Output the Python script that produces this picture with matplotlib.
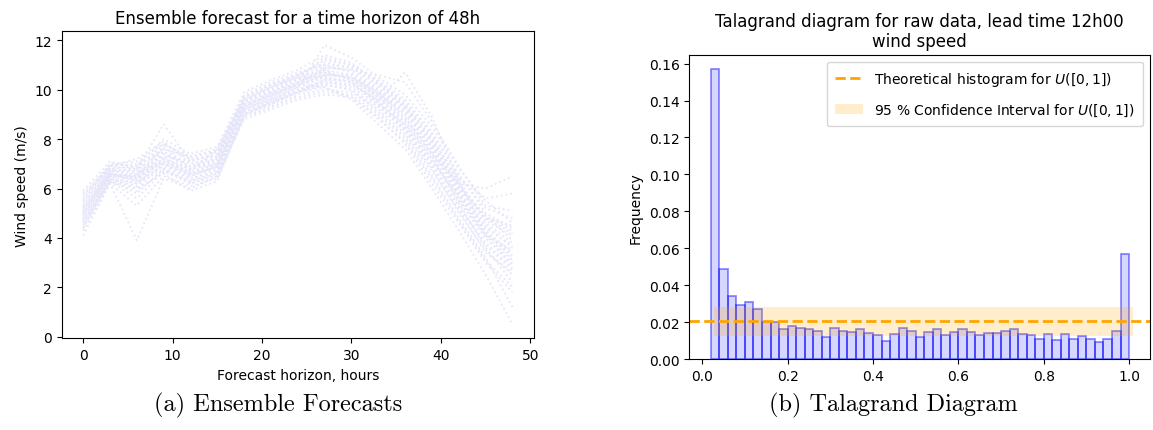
import numpy as np
import matplotlib
matplotlib.use('Agg')
import matplotlib.pyplot as plt

# ensemble forecasts, one value every 3 hours
hours = [0, 3, 6, 9, 12, 15, 18, 21, 24, 27, 30, 33, 36, 39, 42, 45, 48]
members = [
    [5.0, 6.6, 6.5, 7.2, 6.8, 7.0, 9.3, 9.8, 10.2, 10.6, 10.5, 9.8, 8.8, 7.5, 5.8, 4.5, 3.6],
    [4.8, 6.5, 6.2, 7.0, 6.5, 6.9, 9.1, 9.6, 10.0, 10.3, 10.2, 9.5, 8.5, 7.2, 5.5, 4.0, 3.0],
    [5.3, 6.8, 6.9, 7.5, 7.0, 7.2, 9.5, 10.0, 10.4, 10.9, 10.8, 10.1, 9.2, 7.8, 6.1, 4.8, 4.2],
    [4.6, 6.3, 5.8, 6.8, 6.2, 6.6, 8.9, 9.3, 9.8, 10.0, 9.9, 9.2, 8.2, 6.8, 5.0, 3.5, 2.5],
    [5.5, 7.0, 7.1, 7.8, 7.3, 7.5, 9.7, 10.2, 10.6, 11.2, 11.0, 10.4, 9.6, 8.3, 6.5, 5.2, 4.8],
    [4.1, 6.2, 3.9, 6.4, 6.0, 6.5, 8.8, 9.2, 9.6, 9.8, 9.7, 8.9, 7.8, 6.2, 4.6, 3.0, 1.8],
    [5.9, 7.1, 6.8, 8.6, 7.1, 7.4, 9.4, 9.9, 10.3, 10.8, 10.6, 9.9, 9.0, 7.7, 6.0, 4.9, 3.9],
    [4.4, 6.4, 6.0, 6.6, 5.9, 6.3, 9.0, 9.4, 9.9, 10.2, 10.0, 9.3, 8.4, 7.0, 5.3, 3.8, 2.8],
    [5.2, 6.7, 6.6, 7.4, 6.9, 7.1, 9.2, 9.7, 10.1, 11.8, 11.3, 10.5, 9.8, 8.5, 6.8, 5.5, 4.6],
    [4.9, 6.5, 6.4, 7.1, 6.7, 7.6, 9.6, 10.1, 10.5, 10.5, 10.3, 9.6, 10.7, 8.9, 6.3, 4.2, 3.3],
    [5.1, 6.6, 6.3, 6.9, 6.4, 6.8, 9.1, 9.5, 10.0, 10.4, 10.4, 9.7, 8.7, 7.4, 6.2, 6.0, 6.5],
    [4.7, 6.4, 6.1, 7.3, 6.6, 6.9, 9.3, 9.8, 10.2, 10.1, 9.6, 8.6, 7.6, 6.0, 4.3, 2.5, 0.5],
    [5.6, 6.9, 7.0, 7.6, 7.2, 7.3, 9.8, 10.3, 10.7, 11.0, 10.9, 10.2, 9.4, 8.0, 6.4, 5.6, 5.8],
    [5.4, 6.8, 6.7, 7.0, 6.6, 7.0, 9.4, 9.9, 10.3, 10.7, 10.5, 9.9, 8.9, 7.4, 5.6, 4.1, 3.1],
    [4.5, 6.3, 5.6, 6.7, 6.3, 6.7, 9.0, 9.5, 9.9, 10.3, 10.1, 9.4, 8.6, 7.3, 5.4, 3.6, 2.2],
    [5.7, 7.0, 6.9, 8.0, 7.4, 7.7, 9.9, 10.4, 10.8, 11.4, 11.1, 10.3, 9.5, 8.2, 6.6, 5.0, 4.4],
    [4.3, 6.2, 5.3, 6.5, 6.1, 6.4, 8.9, 9.3, 9.7, 9.9, 9.8, 9.0, 8.0, 6.5, 4.8, 3.2, 1.2],
    [5.0, 6.6, 6.5, 7.7, 6.8, 7.1, 9.5, 9.9, 10.4, 10.6, 10.6, 10.0, 9.1, 7.9, 6.0, 4.6, 3.8],
    [4.9, 6.5, 6.6, 7.2, 6.5, 6.9, 9.2, 9.7, 10.2, 10.5, 10.3, 9.5, 8.4, 7.1, 5.7, 4.3, 3.4],
    [5.3, 6.8, 6.4, 7.4, 6.9, 7.2, 9.6, 10.0, 10.5, 11.0, 10.7, 10.0, 9.3, 8.1, 6.2, 4.7, 4.1],
    [5.8, 6.9, 7.2, 7.9, 7.0, 7.3, 9.4, 9.8, 10.2, 10.9, 10.8, 10.6, 10.3, 8.7, 6.9, 5.3, 5.1],
    [4.6, 6.4, 6.2, 6.8, 6.3, 6.6, 9.1, 9.6, 10.0, 10.2, 10.0, 9.1, 8.1, 6.7, 5.1, 3.4, 2.6],
    [5.1, 6.7, 6.8, 7.3, 7.1, 7.4, 9.3, 9.8, 10.3, 10.8, 10.4, 9.7, 8.8, 7.6, 5.9, 4.4, 3.7],
    [5.2, 6.6, 6.3, 7.1, 6.6, 6.8, 9.0, 9.4, 9.9, 10.4, 10.2, 9.6, 8.6, 7.2, 5.5, 4.0, 2.9],
    [4.8, 6.5, 6.5, 7.5, 6.7, 7.0, 9.5, 10.1, 10.6, 11.1, 10.9, 10.2, 9.3, 7.9, 6.1, 4.9, 4.3],
    [5.0, 6.7, 6.7, 7.6, 7.3, 7.6, 9.7, 10.2, 10.6, 10.7, 10.4, 9.8, 9.0, 7.7, 5.8, 4.2, 3.2],
    [4.7, 6.3, 6.0, 7.0, 6.4, 6.7, 9.2, 9.6, 10.1, 10.5, 10.3, 9.4, 8.3, 6.9, 5.2, 3.7, 2.7],
    [5.5, 6.9, 6.8, 7.8, 7.2, 7.5, 9.6, 10.1, 10.5, 11.3, 11.0, 10.3, 9.4, 8.0, 6.3, 4.8, 4.5],
    [5.1, 6.6, 6.4, 7.2, 6.8, 7.1, 9.3, 9.8, 10.2, 10.6, 10.5, 9.9, 9.1, 7.6, 5.7, 4.1, 3.5],
    [4.4, 6.3, 5.9, 6.7, 6.2, 6.5, 9.0, 9.5, 9.9, 10.1, 9.7, 8.8, 7.9, 6.4, 4.7, 3.1, 2.0],
]

# talagrand histogram (normalised ranks), 49 bins of width 0.02
rank_freq = [0.157, 0.049, 0.034, 0.029, 0.031, 0.027, 0.020, 0.020, 0.0165, 0.018,
             0.017, 0.016, 0.015, 0.012, 0.017, 0.015, 0.0145, 0.016, 0.014, 0.013,
             0.010, 0.0135, 0.017, 0.015, 0.012, 0.0145, 0.0165, 0.013, 0.0145, 0.016,
             0.0145, 0.013, 0.014, 0.014, 0.015, 0.016, 0.0135, 0.013, 0.011, 0.0135,
             0.0105, 0.0135, 0.011, 0.0125, 0.011, 0.009, 0.011, 0.015, 0.057]
uniform_level = 0.0208
ci_low, ci_high = 0.0127, 0.0281
ci_x = [0.027, 1.008]

fig = plt.figure(figsize=(11.53, 4.31), dpi=100)

# (a) ensemble forecasts
ax1 = fig.add_axes([0.0535, 0.2128, 0.4096, 0.7122])
for m in members:
    ax1.plot(hours, m, ':', color='lavender', linewidth=1.3)
ax1.set_title('Ensemble forecast for a time horizon of 48h', fontsize=12)
ax1.set_xlabel('Forecast horizon, hours', fontsize=10)
ax1.set_ylabel('Wind speed (m/s)', fontsize=10)
ax1.set_xticks([0, 10, 20, 30, 40, 50])
ax1.set_yticks([0, 2, 4, 6, 8, 10, 12])
ax1.tick_params(labelsize=10)

# (b) talagrand diagram
ax2 = fig.add_axes([0.5978, 0.1647, 0.3996, 0.7061])
edges = np.linspace(0.02, 1.0, len(rank_freq) + 1)
ax2.hist(edges[:-1], bins=edges, weights=rank_freq,
         facecolor=(0, 0, 1, 0.16), edgecolor=(0, 0, 1, 0.45), linewidth=1.3)
ax2.axhline(uniform_level, color='orange', linestyle='--', linewidth=2,
            label='Theoretical histogram for $U([0,1])$')
ax2.fill_between(ci_x, ci_low, ci_high, color='orange', alpha=0.2, linewidth=0,
                 label='95 % Confidence Interval for $U([0,1])$')
ax2.set_title('Talagrand diagram for raw data, lead time 12h00\nwind speed', fontsize=12)
ax2.set_ylabel('Frequency', fontsize=10)
ax2.set_xlim(-0.0305, 1.049)
ax2.set_yticks(np.arange(0, 0.17, 0.02))
ax2.tick_params(labelsize=10)
ax2.legend(loc='upper right', fontsize=10, labelspacing=1.0, borderpad=0.6)

fig.text(0.241, 0.06, '(a) Ensemble Forecasts', family='cmr10', fontsize=17.5,
         ha='center', va='center')
fig.text(0.775, 0.06, '(b) Talagrand Diagram', family='cmr10', fontsize=17.5,
         ha='center', va='center')

fig.savefig('out.png', dpi=100)
